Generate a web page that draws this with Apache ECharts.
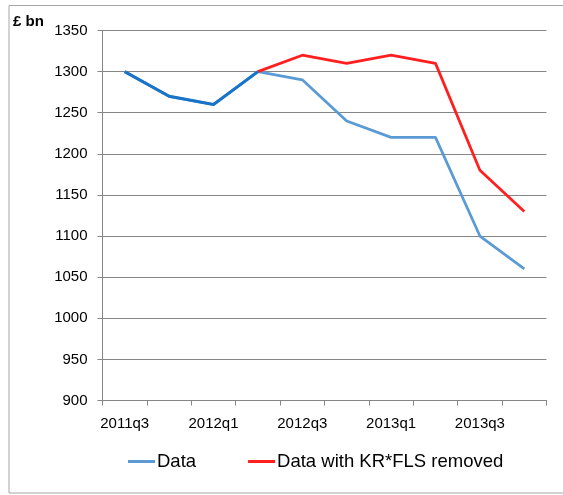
<!DOCTYPE html>
<html><head><meta charset="utf-8">
<script src="https://cdn.jsdelivr.net/npm/echarts@6/dist/echarts.min.js"></script>
<style>html,body{margin:0;padding:0;background:#fff}#c{width:563px;height:495px}</style>
</head><body><div id="c"></div>
<script>
const categories = ['2011q3','2011q4','2012q1','2012q2','2012q3','2012q4','2013q1','2013q2','2013q3','2013q4'];
const dataValues = [1300,1270,1260,1300,1290,1240,1220,1220,1100,1060];
const removedValues = [null,null,null,1300,1320,1310,1320,1310,1180,1130];
const commonValues = [1300,1270,1260,1300,null,null,null,null,null,null];
const yTicks = [900,950,1000,1050,1100,1150,1200,1250,1300,1350];

const FONT = 'Liberation Sans';
const chart = echarts.init(document.getElementById('c'), null, {renderer:'canvas'});
chart.setOption({
  animation:false,
  textStyle:{fontFamily:FONT},
  graphic:[
    {type:'rect', shape:{x:9,y:5.5,width:600,height:487.5}, style:{fill:null,stroke:'#a6a6a6',lineWidth:1}, silent:true},
    {type:'text', left:13, top:14, style:{text:'£ bn', font:'bold 15px "Liberation Sans"', fill:'#000'}}
  ],
  grid:{left:102.5, right:16.5, top:30.5, bottom:94.5},
  legend:{
    top:447, left:123,
    itemWidth:27, itemHeight:3, itemGap:52,
    icon:'rect',
    data:['Data','Data with KR*FLS removed'],
    textStyle:{fontFamily:FONT, fontSize:18.5, color:'#000', padding:[0,0,0,-3]}
  },
  xAxis:{
    type:'category', data:categories, boundaryGap:true,
    axisLine:{lineStyle:{color:'#868686',width:1}},
    axisTick:{show:true, interval:0, length:5, lineStyle:{color:'#868686'}},
    axisLabel:{interval:1, color:'#000', fontSize:15, fontFamily:FONT, margin:16}
  },
  yAxis:{
    type:'value', min:yTicks[0], max:yTicks[yTicks.length-1], interval:50,
    axisLine:{show:true, lineStyle:{color:'#868686'}},
    axisTick:{show:true, length:5, lineStyle:{color:'#868686'}},
    axisLabel:{color:'#000', fontSize:15, fontFamily:FONT, margin:15, formatter:v=>String(v)},
    splitLine:{lineStyle:{color:'#868686',width:1}}
  },
  series:[
    {name:'Data', type:'line', data:dataValues, symbol:'none', color:'#5b9bd5',
     lineStyle:{width:2.75,color:'#5b9bd5'}, z:2},
    {name:'Data with KR*FLS removed', type:'line', data:removedValues, symbol:'none', color:'#ff1f1f',
     lineStyle:{width:2.75,color:'#ff1f1f'}, z:3},
    {name:'common', type:'line', data:commonValues, symbol:'none', color:'#1874c8',
     lineStyle:{width:3,color:'#1874c8'}, z:4}
  ]
});
</script></body></html>
